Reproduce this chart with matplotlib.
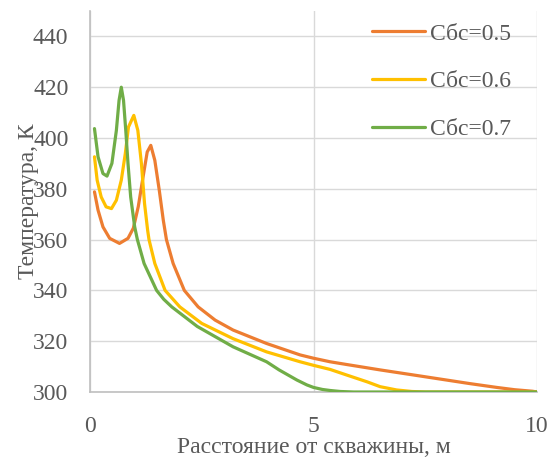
import matplotlib
matplotlib.use("Agg")
import matplotlib.pyplot as plt

plt.rcParams["font.family"] = ["Liberation Serif", "DejaVu Serif"]

# distance from the well, m / temperature, K
x_05 = [0.1, 0.18, 0.29, 0.44, 0.66, 0.85, 0.97, 1.08, 1.19, 1.28, 1.36, 1.45, 1.55, 1.64, 1.71, 1.86,
        2.11, 2.42, 2.8, 3.2, 3.95, 4.7, 5.0, 5.37, 5.75, 6.49, 7.2, 7.98, 8.5, 9.1, 9.5, 9.9, 10.0]
t_05 = [378.8, 371.6, 365.0, 360.5, 358.5, 360.5, 364.5, 373.0, 385.0, 394.5, 397.1, 391.2, 379.4, 367.6, 360.0, 350.6,
        340.0, 333.5, 328.3, 324.4, 319.1, 314.6, 313.3, 311.9, 310.8, 308.7, 306.8, 304.7, 303.3, 301.8, 300.9, 300.3, 300.0]

x_06 = [0.1, 0.16, 0.25, 0.36, 0.48, 0.59, 0.7, 0.79, 0.86, 0.98, 1.07, 1.15, 1.22, 1.29, 1.32, 1.45, 1.68, 2.01,
        2.5, 3.2, 3.95, 4.7, 5.0, 5.37, 5.74, 6.2, 6.49, 6.86, 7.2, 7.5, 10.0]
t_06 = [392.6, 383.4, 376.8, 372.9, 372.2, 375.5, 383.4, 393.9, 404.3, 408.9, 403.0, 390.0, 374.2, 363.6, 360.0, 350.6, 340.0, 333.5,
        327.0, 321.0, 315.8, 311.9, 310.5, 308.9, 306.7, 304.0, 302.1, 300.8, 300.2, 300.0, 300.0]

x_07 = [0.1, 0.18, 0.29, 0.38, 0.49, 0.59, 0.65, 0.7, 0.75, 0.8, 0.85, 0.91, 1.0, 1.06, 1.21, 1.49, 1.65, 1.83,
        2.4, 3.2, 3.95, 4.23, 4.63, 4.85, 5.0, 5.2, 5.37, 5.6, 5.9, 10.0]
t_07 = [403.7, 392.6, 386.0, 385.0, 390.0, 403.0, 414.8, 420.0, 414.8, 403.0, 390.0, 376.8, 365.0, 360.0, 350.6, 340.0, 336.5, 333.5,
        325.8, 317.8, 311.9, 308.7, 304.7, 302.8, 301.8, 301.0, 300.6, 300.2, 300.0, 300.0]

labels = ["Сбс=0.5", "Сбс=0.6", "Сбс=0.7"]
colors = ["#ED7D31", "#FFC000", "#70AD47"]

x_ticks = [0, 5, 10]
y_ticks = [300, 320, 340, 360, 380, 400, 420, 440]

FS = 17
TXT = "#595959"

fig = plt.figure(figsize=(5.51, 4.72), dpi=100)
ax = fig.add_axes([90 / 551, 1 - 392 / 472, 447 / 551, 381 / 472])

for xs, ts, lab, col in zip([x_05, x_06, x_07], [t_05, t_06, t_07], labels, colors):
    ax.plot(xs, ts, color=col, linewidth=2.3, label=lab,
            solid_capstyle="round", solid_joinstyle="round", zorder=3)

ax.set_xlim(0, 10)
ax.set_ylim(300, 450)
ax.set_xticks(x_ticks)
ax.set_yticks(y_ticks)
ax.grid(True, color="#d9d9d9", linewidth=1.0, zorder=0)
ax.set_axisbelow(True)

for side in ["top", "right"]:
    ax.spines[side].set_visible(False)
for side in ["left", "bottom"]:
    ax.spines[side].set_color("#bfbfbf")
    ax.spines[side].set_linewidth(1.2)

ax.tick_params(axis="both", length=0, labelsize=FS, labelcolor=TXT)
ax.tick_params(axis="x", pad=17)
ax.tick_params(axis="y", pad=15.5)

ax.set_xlabel("Расстояние от скважины, м", fontsize=FS, color=TXT, labelpad=0)
ax.set_ylabel("Температура, К", fontsize=FS, color=TXT, labelpad=-4.5)

ax.legend(loc="upper left", bbox_to_anchor=(372 / 551, 1 - 23 / 472), bbox_transform=fig.transFigure,
          frameon=False, fontsize=FS, handlelength=2.25, handletextpad=0.2, labelspacing=1.11,
          borderpad=0, borderaxespad=0, labelcolor=TXT)

fig.savefig("out.png", dpi=100)
